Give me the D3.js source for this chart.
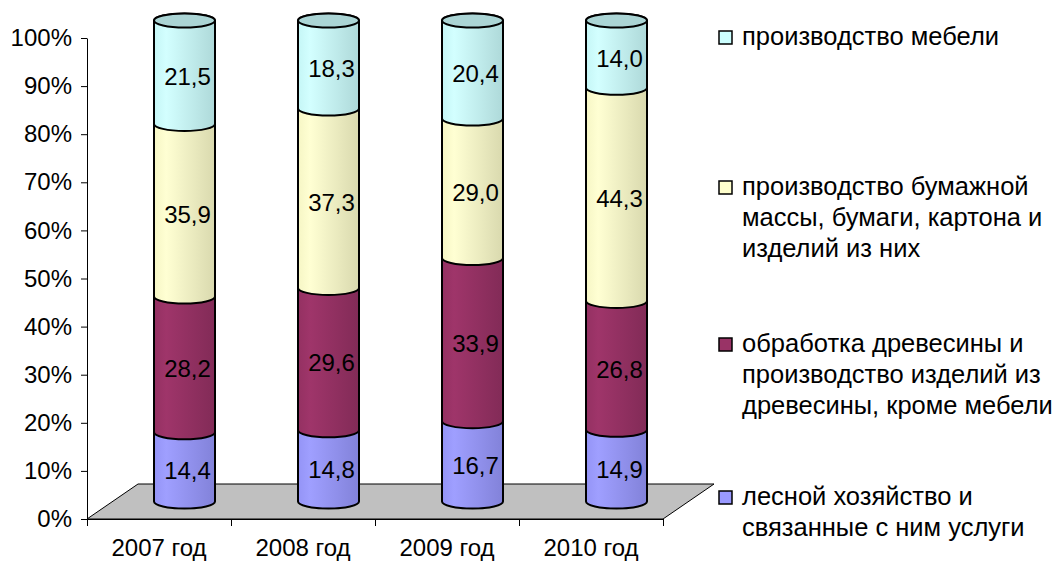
<!DOCTYPE html>
<html>
  <head>
    <meta charset="utf-8">
    <script src="https://cdn.jsdelivr.net/npm/d3@7/dist/d3.min.js" charset="utf-8"></script>
    <style>
      body { margin: 0; background: #fff; }
      text { font-family: "Liberation Sans", Arial, sans-serif; }
    </style>
  </head>
  <body>
    <script type="text/javascript">
      var years = ["2007 год", "2008 год", "2009 год", "2010 год"];
      // ряды снизу вверх
      var seriesNames = [
        ["лесной хозяйство и", "связанные с ним услуги"],
        ["обработка древесины и", "производство изделий из", "древесины, кроме мебели"],
        ["производство бумажной", "массы, бумаги, картона и", "изделий из них"],
        ["производство мебели"]
      ];
      var forestry = [14.4, 14.8, 16.7, 14.9];
      var woodwork = [28.2, 29.6, 33.9, 26.8];
      var paper    = [35.9, 37.3, 29.0, 44.3];
      var furniture = [21.5, 18.3, 20.4, 14.0];
      var yTicks = [0, 0.1, 0.2, 0.3, 0.4, 0.5, 0.6, 0.7, 0.8, 0.9, 1];

      var colors = ["#9999FF", "#993366", "#FFFFCC", "#CCFFFF"];
      var values = [forestry, woodwork, paper, furniture];

      var w = 1062, h = 561;
      var plotLeft = 87, plotRight = 663, plotBottom = 519, plotTop = 38;
      var depthX = 51, depthY = -35;
      var rx = 30.5, ry = 7;
      var axisFont = 24, labelFont = 24, legendFont = 25.5;

      var svg = d3.select("body").append("svg")
          .attr("width", w).attr("height", h);

      var x = d3.scaleBand().domain(years).range([plotLeft, plotRight]);
      var y = d3.scaleLinear().domain([0, 1]).range([plotBottom, plotTop]);

      // градиенты цилиндров
      var defs = svg.append("defs");
      colors.forEach(function(c, i) {
        var g = defs.append("linearGradient").attr("id", "grad" + i)
            .attr("x1", "0%").attr("x2", "100%").attr("y1", "0%").attr("y2", "0%");
        var base = d3.color(c);
        g.append("stop").attr("offset", "0%").attr("stop-color", base.darker(0.1));
        g.append("stop").attr("offset", "20%").attr("stop-color", base.brighter(0.1));
        g.append("stop").attr("offset", "100%").attr("stop-color", base.darker(0.45));
      });

      // пол
      svg.append("path")
         .attr("d", "M" + plotLeft + "," + plotBottom +
                    "L" + (plotLeft + depthX) + "," + (plotBottom + depthY) +
                    "L" + (plotRight + depthX) + "," + (plotBottom + depthY) +
                    "L" + plotRight + "," + plotBottom + "Z")
         .attr("fill", "#C0C0C0")
         .attr("stroke", "#000")
         .attr("stroke-width", 1);

      // оси
      var yAxis = svg.append("g")
          .attr("transform", "translate(" + plotLeft + ",0)")
          .call(d3.axisLeft(y).tickValues(yTicks).tickFormat(d3.format(".0%"))
                .tickSize(6).tickPadding(9).tickSizeOuter(0));
      yAxis.selectAll("text").attr("font-size", axisFont).attr("fill", "#000")
           .style("font-family", "'Liberation Sans', Arial, sans-serif");
      yAxis.selectAll("line, path").attr("stroke", "#000");

      var xTicks = svg.append("g")
          .attr("transform", "translate(0," + plotBottom + ")")
          .call(d3.axisBottom(d3.scaleLinear().domain([0, 4]).range([plotLeft, plotRight]))
                .tickValues([0, 1, 2, 3, 4]).tickFormat("").tickSize(7).tickSizeOuter(0));
      xTicks.selectAll("line, path").attr("stroke", "#000");

      var xAxis = svg.append("g")
          .attr("transform", "translate(0," + plotBottom + ")")
          .call(d3.axisBottom(x).tickSize(0).tickPadding(20));
      xAxis.select(".domain").remove();
      xAxis.selectAll("text").attr("font-size", axisFont).attr("fill", "#000")
           .style("font-family", "'Liberation Sans', Arial, sans-serif");

      // цилиндры
      var fmt = function(v) { return d3.format(".1f")(v).replace(".", ","); };
      years.forEach(function(yr, i) {
        var cx = x(yr) + x.bandwidth() / 2 + depthX / 2;
        var g = svg.append("g");
        var acc = 0;
        values.forEach(function(s, k) {
          var y0 = y(acc / 100) + depthY / 2;
          var y1 = y((acc + s[i]) / 100) + depthY / 2;
          var d = "M" + (cx - rx) + "," + y1 +
                  "L" + (cx - rx) + "," + y0 +
                  "A" + rx + "," + ry + " 0 0 0 " + (cx + rx) + "," + y0 +
                  "L" + (cx + rx) + "," + y1 +
                  "A" + rx + "," + ry + " 0 0 0 " + (cx - rx) + "," + y1 + "Z";
          g.append("path").attr("d", d)
           .attr("fill", "url(#grad" + k + ")")
           .attr("stroke", "#000").attr("stroke-width", 2)
           .attr("stroke-linejoin", "round");
          if (k === values.length - 1) {
            g.append("ellipse").attr("cx", cx).attr("cy", y1)
             .attr("rx", rx).attr("ry", ry)
             .attr("fill", d3.color(colors[k]).darker(0.5))
             .attr("stroke", "#000").attr("stroke-width", 2);
          }
          acc += s[i];
        });
        // подписи
        acc = 0;
        values.forEach(function(s, k) {
          var ym = y((acc + s[i] / 2) / 100) + depthY / 2 + 6;
          g.append("text").attr("x", cx + 3).attr("y", ym)
           .attr("text-anchor", "middle").attr("dominant-baseline", "middle")
           .attr("font-size", labelFont).attr("fill", "#000")
           .text(fmt(s[i]));
          acc += s[i];
        });
      });

      // легенда
      var legendY = [38, 188, 345, 498];
      var lg = svg.append("g");
      [3, 2, 1, 0].forEach(function(k, j) {
        var ly = legendY[j];
        lg.append("rect").attr("x", 719).attr("y", ly - 7).attr("width", 13).attr("height", 13)
          .attr("fill", colors[k]).attr("stroke", "#000").attr("stroke-width", 1.5);
        seriesNames[k].forEach(function(line, n) {
          lg.append("text").attr("x", 742).attr("y", ly + n * 31)
            .attr("dominant-baseline", "middle")
            .attr("font-size", legendFont).attr("fill", "#000")
            .text(line);
        });
      });
    </script>
  </body>
</html>
